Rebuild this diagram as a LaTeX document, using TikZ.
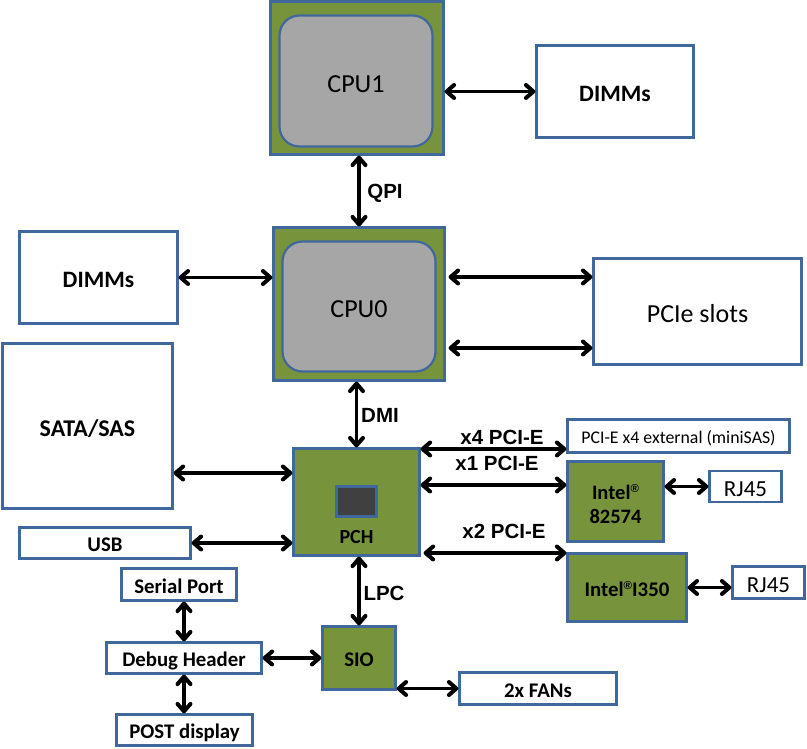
\documentclass[tikz,border=0pt]{standalone}
\usepackage{fontspec}
\setmainfont{Carlito}
\newfontfamily\lsans{Liberation Sans}
\usetikzlibrary{arrows.meta}
\definecolor{cgreen}{HTML}{77933C}
\definecolor{cblue}{HTML}{41689C}
\definecolor{cgray}{HTML}{A6A6A6}
\definecolor{cdark}{HTML}{404040}
\tikzset{
  box/.style={draw=cblue, line width=2.2pt, fill=white, rectangle, inner sep=0pt},
  gbox/.style={box, fill=cgreen},
  cpuin/.style={box, fill=cgray, rounded corners=20pt},
  chip/.style={box, fill=cdark},
  tbig/.style={font=\fontsize{26}{26}\selectfont, text height=28.6pt, text depth=6.2pt},
  tdimm/.style={font=\bfseries\fontsize{23.5}{23.5}\selectfont, text height=25.9pt, text depth=5.6pt},
  tsata/.style={font=\bfseries\fontsize{24}{24}\selectfont, text height=26.4pt, text depth=5.8pt},
  tsmall/.style={font=\bfseries\fontsize{20.8}{20.8}\selectfont, text height=22.9pt, text depth=5pt},
  trj/.style={font=\fontsize{23}{23}\selectfont, text height=25.3pt, text depth=5.5pt},
  text18/.style={font=\fontsize{17.8}{17.8}\selectfont, text height=19.6pt, text depth=4.3pt},
  lbl/.style={font=\lsans\bfseries\fontsize{20.5}{20.5}\selectfont, inner sep=0pt},
  arr/.style={line width=3.4pt, {Straight Barb[length=7.5pt,width=13pt,round,line width=4pt]}-{Straight Barb[length=7.5pt,width=13pt,round,line width=4pt]}},
}
\newcommand{\regmark}{\raisebox{7pt}{\lsans\bfseries\fontsize{11.5}{11.5}\selectfont ®}}
\begin{document}
\begin{tikzpicture}[x=1pt,y=-1pt]
\useasboundingbox (0,0) rectangle (807,749);
% CPUs
\node[gbox, minimum width=173pt, minimum height=153pt] (cpu1) at (357,78) {};
\node[cpuin, tbig, minimum width=153pt, minimum height=131pt] (cpu1in) at (356,81) {CPU1};
\node[gbox, minimum width=171pt, minimum height=153pt] (cpu0) at (359,304) {};
\node[cpuin, tbig, minimum width=153pt, minimum height=130pt] (cpu0in) at (359,306.5) {CPU0};
% memory and slots
\node[box, tdimm, minimum width=157pt, minimum height=92pt] (dimmR) at (615,91.5) {DIMMs};
\node[box, tdimm, minimum width=158pt, minimum height=92pt] (dimmL) at (98.5,277.5) {DIMMs};
\node[box, tbig, minimum width=208pt, minimum height=106pt] (pcie) at (697.5,311.5) {PCIe slots};
\node[box, tsata, minimum width=170pt, minimum height=165pt] (sata) at (87.5,426) {SATA/SAS};
% PCH
\node[gbox, minimum width=126pt, minimum height=107pt] (pch) at (356.5,502) {};
\node[chip, minimum width=40pt, minimum height=30pt] (pchchip) at (356.5,501.5) {};
\node[anchor=base, inner sep=0pt, font=\bfseries\fontsize{20}{20}\selectfont] (pchlbl) at (356.5,543.5) {PCH};
% right side
\node[box, text18, minimum width=222pt, minimum height=33pt] (pcix4) at (678.5,436) {PCI-E x4 external (miniSAS)};
\node[gbox, font=\bfseries\fontsize{20.5}{24}\selectfont, align=center, minimum width=96pt, minimum height=80pt] (i82574) at (615.5,501.5) {\rule{0pt}{19.5pt}Intel\regmark\\82574};
\node[box, trj, minimum width=72pt, minimum height=31pt] (rj45a) at (745.5,486.5) {RJ45};
\node[gbox, tsmall, minimum width=119pt, minimum height=68pt] (i350) at (627,587.5) {Intel\regmark I350};
\node[box, trj, minimum width=72pt, minimum height=32pt] (rj45b) at (768.5,582.5) {RJ45};
% bottom left
\node[box, tsmall, minimum width=171pt, minimum height=31pt] (usb) at (105,543) {USB};
\node[box, tsmall, minimum width=115pt, minimum height=32pt] (serial) at (179,584.5) {Serial Port};
\node[box, tsmall, minimum width=155pt, minimum height=31pt] (debug) at (184,658) {Debug Header};
\node[box, tsmall, minimum width=136pt, minimum height=31pt] (post) at (184.5,730) {POST display};
\node[gbox, tsmall, minimum width=73pt, minimum height=63pt] (sio) at (359,658) {SIO};
\node[box, tsmall, minimum width=157pt, minimum height=32pt] (fans) at (538,688.5) {2x FANs};
% connector labels
\node[lbl] (qpi) at (385,193) {QPI};
\node[lbl] (dmi) at (380,415) {DMI};
\node[lbl] (lpc) at (384,593) {LPC};
\node[lbl] (lx4) at (502,437) {x4 PCI-E};
\node[lbl] (lx1) at (497,463) {x1 PCI-E};
\node[lbl] (lx2) at (504,531) {x2 PCI-E};
% connectors
\draw[arr] (cpu1.east |- dimmR.west) -- (dimmR.west);
\draw[arr] (cpu0.north |- cpu1.south) -- (cpu0.north);
\draw[arr] (dimmL.east) -- (cpu0.west |- dimmL.east);
\draw[arr] ([xshift=3pt]cpu0.east |- 0,277) -- (pcie.west |- 0,277);
\draw[arr] ([xshift=3pt]cpu0.east |- 0,348) -- (pcie.west |- 0,348);
\draw[arr] (pch.north |- cpu0.south) -- (pch.north);
\draw[arr] (sata.east |- 0,473) -- (pch.west |- 0,473);
\draw[arr] (pch.east |- 0,449) -- (pcix4.west |- 0,449);
\draw[arr] (pch.east |- 0,485) -- (i82574.west |- 0,485);
\draw[arr] ([xshift=3pt]pch.east |- 0,553) -- (i350.west |- 0,553);
\draw[arr] (i82574.east |- rj45a.west) -- (rj45a.west);
\draw[arr] (i350.east) -- (rj45b.west |- i350.east);
\draw[arr] (usb.east) -- (pch.west |- usb.east);
\draw[arr] (sio.north |- pch.south) -- (sio.north);
\draw[arr] (debug.north |- serial.south) -- (debug.north);
\draw[arr] (debug.south) -- (post.north -| debug.south);
\draw[arr] (debug.east) -- (sio.west);
\draw[arr] (sio.east |- fans.west) -- (fans.west);
\end{tikzpicture}
\end{document}
